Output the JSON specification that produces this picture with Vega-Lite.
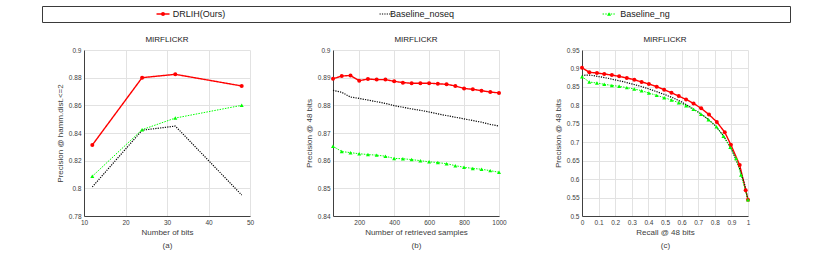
{
  "$schema": "https://vega.github.io/schema/vega-lite/v6.json",
  "padding": {"left": 41, "top": 5, "right": 5, "bottom": 0},
  "config": {
    "font": "Liberation Sans",
    "view": {"stroke": null},
    "axis": {
      "domainColor": "#404040", "domainWidth": 1,
      "gridColor": "#e2e2e2", "gridWidth": 1,
      "ticks": false,
      "labelFont": "Liberation Sans", "labelFontSize": 6.5, "labelColor": "#404040",
      "labelPadding": 3, "labelFlush": false, "labelOverlap": false,
      "labelExpr": "format(datum.value, '~g')",
      "titleFont": "Liberation Sans", "titleFontSize": 8, "titleFontWeight": "normal", "titleColor": "#404040"
    },
    "axisY": {"titlePadding": 4},
    "axisX": {"titlePadding": 3, "titleLineHeight": 13},
    "title": {"fontSize": 8, "fontWeight": "normal", "color": "#1a1a1a", "offset": 3, "font": "Liberation Sans"}
  },
  "datasets": {
    "series": [
      {"series": "DRLIH(Ours)"},
      {"series": "Baseline_noseq"},
      {"series": "Baseline_ng"}
    ],
    "a": [
      {"series": "DRLIH(Ours)", "x": 12, "y": 0.8313},
      {"series": "DRLIH(Ours)", "x": 24, "y": 0.8800},
      {"series": "DRLIH(Ours)", "x": 32, "y": 0.8824},
      {"series": "DRLIH(Ours)", "x": 48, "y": 0.8740},
      {"series": "Baseline_noseq", "x": 12, "y": 0.8010},
      {"series": "Baseline_noseq", "x": 24, "y": 0.8420},
      {"series": "Baseline_noseq", "x": 32, "y": 0.8450},
      {"series": "Baseline_noseq", "x": 48, "y": 0.7952},
      {"series": "Baseline_ng", "x": 12, "y": 0.8087},
      {"series": "Baseline_ng", "x": 24, "y": 0.8424},
      {"series": "Baseline_ng", "x": 32, "y": 0.8508},
      {"series": "Baseline_ng", "x": 48, "y": 0.8600}
    ],
    "b": [
      {"series": "DRLIH(Ours)", "x": 50, "y": 0.8896},
      {"series": "DRLIH(Ours)", "x": 100, "y": 0.8906},
      {"series": "DRLIH(Ours)", "x": 150, "y": 0.8908},
      {"series": "DRLIH(Ours)", "x": 200, "y": 0.8889},
      {"series": "DRLIH(Ours)", "x": 250, "y": 0.8895},
      {"series": "DRLIH(Ours)", "x": 300, "y": 0.8893},
      {"series": "DRLIH(Ours)", "x": 350, "y": 0.8893},
      {"series": "DRLIH(Ours)", "x": 400, "y": 0.8887},
      {"series": "DRLIH(Ours)", "x": 450, "y": 0.8882},
      {"series": "DRLIH(Ours)", "x": 500, "y": 0.8880},
      {"series": "DRLIH(Ours)", "x": 550, "y": 0.8880},
      {"series": "DRLIH(Ours)", "x": 600, "y": 0.8880},
      {"series": "DRLIH(Ours)", "x": 650, "y": 0.8878},
      {"series": "DRLIH(Ours)", "x": 700, "y": 0.8876},
      {"series": "DRLIH(Ours)", "x": 750, "y": 0.8870},
      {"series": "DRLIH(Ours)", "x": 800, "y": 0.8861},
      {"series": "DRLIH(Ours)", "x": 850, "y": 0.8858},
      {"series": "DRLIH(Ours)", "x": 900, "y": 0.8853},
      {"series": "DRLIH(Ours)", "x": 950, "y": 0.8848},
      {"series": "DRLIH(Ours)", "x": 1000, "y": 0.8845},
      {"series": "Baseline_noseq", "x": 50, "y": 0.8854},
      {"series": "Baseline_noseq", "x": 100, "y": 0.8847},
      {"series": "Baseline_noseq", "x": 150, "y": 0.8830},
      {"series": "Baseline_noseq", "x": 200, "y": 0.8825},
      {"series": "Baseline_noseq", "x": 250, "y": 0.8819},
      {"series": "Baseline_noseq", "x": 300, "y": 0.8813},
      {"series": "Baseline_noseq", "x": 350, "y": 0.8807},
      {"series": "Baseline_noseq", "x": 400, "y": 0.8799},
      {"series": "Baseline_noseq", "x": 450, "y": 0.8793},
      {"series": "Baseline_noseq", "x": 500, "y": 0.8787},
      {"series": "Baseline_noseq", "x": 550, "y": 0.8782},
      {"series": "Baseline_noseq", "x": 600, "y": 0.8776},
      {"series": "Baseline_noseq", "x": 650, "y": 0.8769},
      {"series": "Baseline_noseq", "x": 700, "y": 0.8763},
      {"series": "Baseline_noseq", "x": 750, "y": 0.8757},
      {"series": "Baseline_noseq", "x": 800, "y": 0.8751},
      {"series": "Baseline_noseq", "x": 850, "y": 0.8745},
      {"series": "Baseline_noseq", "x": 900, "y": 0.8739},
      {"series": "Baseline_noseq", "x": 950, "y": 0.8731},
      {"series": "Baseline_noseq", "x": 1000, "y": 0.8725},
      {"series": "Baseline_ng", "x": 50, "y": 0.8652},
      {"series": "Baseline_ng", "x": 100, "y": 0.8633},
      {"series": "Baseline_ng", "x": 150, "y": 0.8629},
      {"series": "Baseline_ng", "x": 200, "y": 0.8625},
      {"series": "Baseline_ng", "x": 250, "y": 0.8622},
      {"series": "Baseline_ng", "x": 300, "y": 0.8620},
      {"series": "Baseline_ng", "x": 350, "y": 0.8616},
      {"series": "Baseline_ng", "x": 400, "y": 0.8608},
      {"series": "Baseline_ng", "x": 450, "y": 0.8607},
      {"series": "Baseline_ng", "x": 500, "y": 0.8604},
      {"series": "Baseline_ng", "x": 550, "y": 0.8600},
      {"series": "Baseline_ng", "x": 600, "y": 0.8596},
      {"series": "Baseline_ng", "x": 650, "y": 0.8593},
      {"series": "Baseline_ng", "x": 700, "y": 0.8589},
      {"series": "Baseline_ng", "x": 750, "y": 0.8582},
      {"series": "Baseline_ng", "x": 800, "y": 0.8576},
      {"series": "Baseline_ng", "x": 850, "y": 0.8572},
      {"series": "Baseline_ng", "x": 900, "y": 0.8569},
      {"series": "Baseline_ng", "x": 950, "y": 0.8564},
      {"series": "Baseline_ng", "x": 1000, "y": 0.8558}
    ],
    "c": [
      {"series": "DRLIH(Ours)", "x": 0, "y": 0.902},
      {"series": "DRLIH(Ours)", "x": 0.044, "y": 0.8895},
      {"series": "DRLIH(Ours)", "x": 0.09, "y": 0.8876},
      {"series": "DRLIH(Ours)", "x": 0.134, "y": 0.885},
      {"series": "DRLIH(Ours)", "x": 0.18, "y": 0.882},
      {"series": "DRLIH(Ours)", "x": 0.224, "y": 0.8786},
      {"series": "DRLIH(Ours)", "x": 0.27, "y": 0.874},
      {"series": "DRLIH(Ours)", "x": 0.315, "y": 0.8696},
      {"series": "DRLIH(Ours)", "x": 0.359, "y": 0.8632},
      {"series": "DRLIH(Ours)", "x": 0.403, "y": 0.858},
      {"series": "DRLIH(Ours)", "x": 0.45, "y": 0.8506},
      {"series": "DRLIH(Ours)", "x": 0.495, "y": 0.8425},
      {"series": "DRLIH(Ours)", "x": 0.539, "y": 0.834},
      {"series": "DRLIH(Ours)", "x": 0.583, "y": 0.825},
      {"series": "DRLIH(Ours)", "x": 0.627, "y": 0.816},
      {"series": "DRLIH(Ours)", "x": 0.672, "y": 0.805},
      {"series": "DRLIH(Ours)", "x": 0.718, "y": 0.792},
      {"series": "DRLIH(Ours)", "x": 0.765, "y": 0.775},
      {"series": "DRLIH(Ours)", "x": 0.812, "y": 0.755},
      {"series": "DRLIH(Ours)", "x": 0.86, "y": 0.727},
      {"series": "DRLIH(Ours)", "x": 0.897, "y": 0.693},
      {"series": "DRLIH(Ours)", "x": 0.95, "y": 0.638},
      {"series": "DRLIH(Ours)", "x": 0.986, "y": 0.57},
      {"series": "DRLIH(Ours)", "x": 1.0, "y": 0.544},
      {"series": "Baseline_noseq", "x": 0, "y": 0.879},
      {"series": "Baseline_noseq", "x": 0.02, "y": 0.882},
      {"series": "Baseline_noseq", "x": 0.05, "y": 0.882},
      {"series": "Baseline_noseq", "x": 0.1, "y": 0.878},
      {"series": "Baseline_noseq", "x": 0.15, "y": 0.874},
      {"series": "Baseline_noseq", "x": 0.2, "y": 0.869},
      {"series": "Baseline_noseq", "x": 0.25, "y": 0.864},
      {"series": "Baseline_noseq", "x": 0.3, "y": 0.858},
      {"series": "Baseline_noseq", "x": 0.35, "y": 0.852},
      {"series": "Baseline_noseq", "x": 0.4, "y": 0.845},
      {"series": "Baseline_noseq", "x": 0.45, "y": 0.837},
      {"series": "Baseline_noseq", "x": 0.5, "y": 0.829},
      {"series": "Baseline_noseq", "x": 0.55, "y": 0.82},
      {"series": "Baseline_noseq", "x": 0.6, "y": 0.809},
      {"series": "Baseline_noseq", "x": 0.65, "y": 0.796},
      {"series": "Baseline_noseq", "x": 0.7, "y": 0.782},
      {"series": "Baseline_noseq", "x": 0.75, "y": 0.766},
      {"series": "Baseline_noseq", "x": 0.8, "y": 0.746},
      {"series": "Baseline_noseq", "x": 0.85, "y": 0.719},
      {"series": "Baseline_noseq", "x": 0.9, "y": 0.682},
      {"series": "Baseline_noseq", "x": 0.95, "y": 0.628},
      {"series": "Baseline_noseq", "x": 0.98, "y": 0.585},
      {"series": "Baseline_noseq", "x": 1.0, "y": 0.543},
      {"series": "Baseline_ng", "x": 0, "y": 0.8777},
      {"series": "Baseline_ng", "x": 0.044, "y": 0.8632},
      {"series": "Baseline_ng", "x": 0.09, "y": 0.8605},
      {"series": "Baseline_ng", "x": 0.134, "y": 0.857},
      {"series": "Baseline_ng", "x": 0.18, "y": 0.854},
      {"series": "Baseline_ng", "x": 0.224, "y": 0.8515},
      {"series": "Baseline_ng", "x": 0.27, "y": 0.848},
      {"series": "Baseline_ng", "x": 0.315, "y": 0.8443},
      {"series": "Baseline_ng", "x": 0.359, "y": 0.8397},
      {"series": "Baseline_ng", "x": 0.403, "y": 0.8334},
      {"series": "Baseline_ng", "x": 0.45, "y": 0.827},
      {"series": "Baseline_ng", "x": 0.495, "y": 0.8208},
      {"series": "Baseline_ng", "x": 0.539, "y": 0.8144},
      {"series": "Baseline_ng", "x": 0.583, "y": 0.8072},
      {"series": "Baseline_ng", "x": 0.627, "y": 0.799},
      {"series": "Baseline_ng", "x": 0.671, "y": 0.789},
      {"series": "Baseline_ng", "x": 0.717, "y": 0.776},
      {"series": "Baseline_ng", "x": 0.762, "y": 0.761},
      {"series": "Baseline_ng", "x": 0.81, "y": 0.742},
      {"series": "Baseline_ng", "x": 0.852, "y": 0.716},
      {"series": "Baseline_ng", "x": 0.893, "y": 0.686},
      {"series": "Baseline_ng", "x": 0.928, "y": 0.656},
      {"series": "Baseline_ng", "x": 0.958, "y": 0.611},
      {"series": "Baseline_ng", "x": 1.0, "y": 0.544}
    ]
  },
  "bounds": "flush",
  "spacing": 28,
  "vconcat": [
    {
      "width": 748,
      "height": 16,
      "view": {"stroke": "#3a3a3a", "strokeWidth": 1},
      "data": {"name": "series"},
      "encoding": {
        "x": {"field": "series", "type": "nominal", "axis": null,
              "scale": {"type": "point", "domain": ["DRLIH(Ours)", "Baseline_noseq", "Baseline_ng"], "padding": 0.677, "align": 0.52}}
      },
      "layer": [
        {
          "mark": {"type": "text", "align": "center", "baseline": "middle", "fontSize": 9, "color": "#1a1a1a", "font": "Liberation Sans"},
          "encoding": {"text": {"field": "series"}}
        },
        {
          "mark": {"type": "point", "shape": "stroke", "size": 169, "filled": false, "xOffset": -36, "opacity": 1},
          "encoding": {
            "color": {"field": "series", "type": "nominal", "scale": {"domain": ["DRLIH(Ours)", "Baseline_noseq", "Baseline_ng"], "range": ["#ff0000", "#000000", "#00ff00"]}, "legend": null},
            "strokeDash": {"field": "series", "type": "nominal", "scale": {"domain": ["DRLIH(Ours)", "Baseline_noseq", "Baseline_ng"], "range": [[1, 0], [1.2, 1.2], [1.5, 1.2]]}, "legend": null},
            "strokeWidth": {"field": "series", "type": "ordinal", "scale": {"domain": ["DRLIH(Ours)", "Baseline_noseq", "Baseline_ng"], "range": [1.4, 1, 1]}, "legend": null}
          }
        },
        {
          "transform": [{"filter": "datum.series !== 'Baseline_noseq'"}],
          "mark": {"type": "point", "filled": true, "size": 16, "xOffset": -36, "opacity": 1},
          "encoding": {
            "color": {"field": "series", "type": "nominal", "legend": null},
            "shape": {"field": "series", "type": "nominal", "scale": {"domain": ["DRLIH(Ours)", "Baseline_ng"], "range": ["circle", "triangle-up"]}, "legend": null}
          }
        }
      ]
    },
    {
      "bounds": "flush",
      "spacing": 41,
      "hconcat": [
        {
          "width": 1, "height": 1,
          "data": {"values": []},
          "mark": {"type": "point", "opacity": 0}
        },
        {
          "spacing": 83,
          "bounds": "flush",
          "hconcat": [
            {
              "width": 166, "height": 166,
              "title": "MIRFLICKR",
              "data": {"name": "a"},
              "encoding": {
                "x": {"field": "x", "type": "quantitative", "scale": {"domain": [10, 50], "nice": false},
                      "axis": {"values": [10, 20, 30, 40, 50], "title": ["Number of bits", "(a)"]}},
                "y": {"field": "y", "type": "quantitative", "scale": {"domain": [0.78, 0.9], "nice": false, "zero": false},
                      "axis": {"values": [0.78, 0.8, 0.82, 0.84, 0.86, 0.88, 0.9], "title": "Precision @ hamm.dist.<=2"}},
                "color": {"field": "series", "type": "nominal", "legend": null}
              },
              "layer": [
                {
                  "mark": {"type": "line"},
                  "encoding": {
                    "strokeDash": {"field": "series", "type": "nominal", "legend": null},
                    "strokeWidth": {"field": "series", "type": "ordinal", "legend": null}
                  }
                },
                {
                  "transform": [{"filter": "datum.series !== 'Baseline_noseq'"}],
                  "mark": {"type": "point", "filled": true, "size": 16, "opacity": 1},
                  "encoding": {"shape": {"field": "series", "type": "nominal", "legend": null}}
                }
              ]
            },
            {
              "width": 166, "height": 166,
              "title": "MIRFLICKR",
              "data": {"name": "b"},
              "encoding": {
                "x": {"field": "x", "type": "quantitative", "scale": {"domain": [50, 1000], "nice": false, "zero": false},
                      "axis": {"values": [200, 400, 600, 800, 1000], "title": ["Number of retrieved samples", "(b)"]}},
                "y": {"field": "y", "type": "quantitative", "scale": {"domain": [0.84, 0.9], "nice": false, "zero": false},
                      "axis": {"values": [0.84, 0.85, 0.86, 0.87, 0.88, 0.89, 0.9], "title": "Precision @ 48 bits"}},
                "color": {"field": "series", "type": "nominal", "legend": null}
              },
              "layer": [
                {
                  "mark": {"type": "line"},
                  "encoding": {
                    "strokeDash": {"field": "series", "type": "nominal", "legend": null},
                    "strokeWidth": {"field": "series", "type": "ordinal", "legend": null}
                  }
                },
                {
                  "transform": [{"filter": "datum.series !== 'Baseline_noseq'"}],
                  "mark": {"type": "point", "filled": true, "size": 16, "opacity": 1},
                  "encoding": {"shape": {"field": "series", "type": "nominal", "legend": null}}
                }
              ]
            },
            {
              "width": 166, "height": 166,
              "title": "MIRFLICKR",
              "data": {"name": "c"},
              "encoding": {
                "x": {"field": "x", "type": "quantitative", "scale": {"domain": [0, 1], "nice": false},
                      "axis": {"values": [0, 0.1, 0.2, 0.3, 0.4, 0.5, 0.6, 0.7, 0.8, 0.9, 1], "title": ["Recall @ 48 bits", "(c)"]}},
                "y": {"field": "y", "type": "quantitative", "scale": {"domain": [0.5, 0.95], "nice": false, "zero": false},
                      "axis": {"values": [0.5, 0.55, 0.6, 0.65, 0.7, 0.75, 0.8, 0.85, 0.9, 0.95], "title": "Precision @ 48 bits"}},
                "color": {"field": "series", "type": "nominal", "legend": null}
              },
              "layer": [
                {
                  "mark": {"type": "line"},
                  "encoding": {
                    "strokeDash": {"field": "series", "type": "nominal", "legend": null},
                    "strokeWidth": {"field": "series", "type": "ordinal", "legend": null}
                  }
                },
                {
                  "transform": [{"filter": "datum.series !== 'Baseline_noseq'"}],
                  "mark": {"type": "point", "filled": true, "size": 16, "opacity": 1},
                  "encoding": {"shape": {"field": "series", "type": "nominal", "legend": null}}
                }
              ]
            }
          ]
        }
      ]
    }
  ]
}
